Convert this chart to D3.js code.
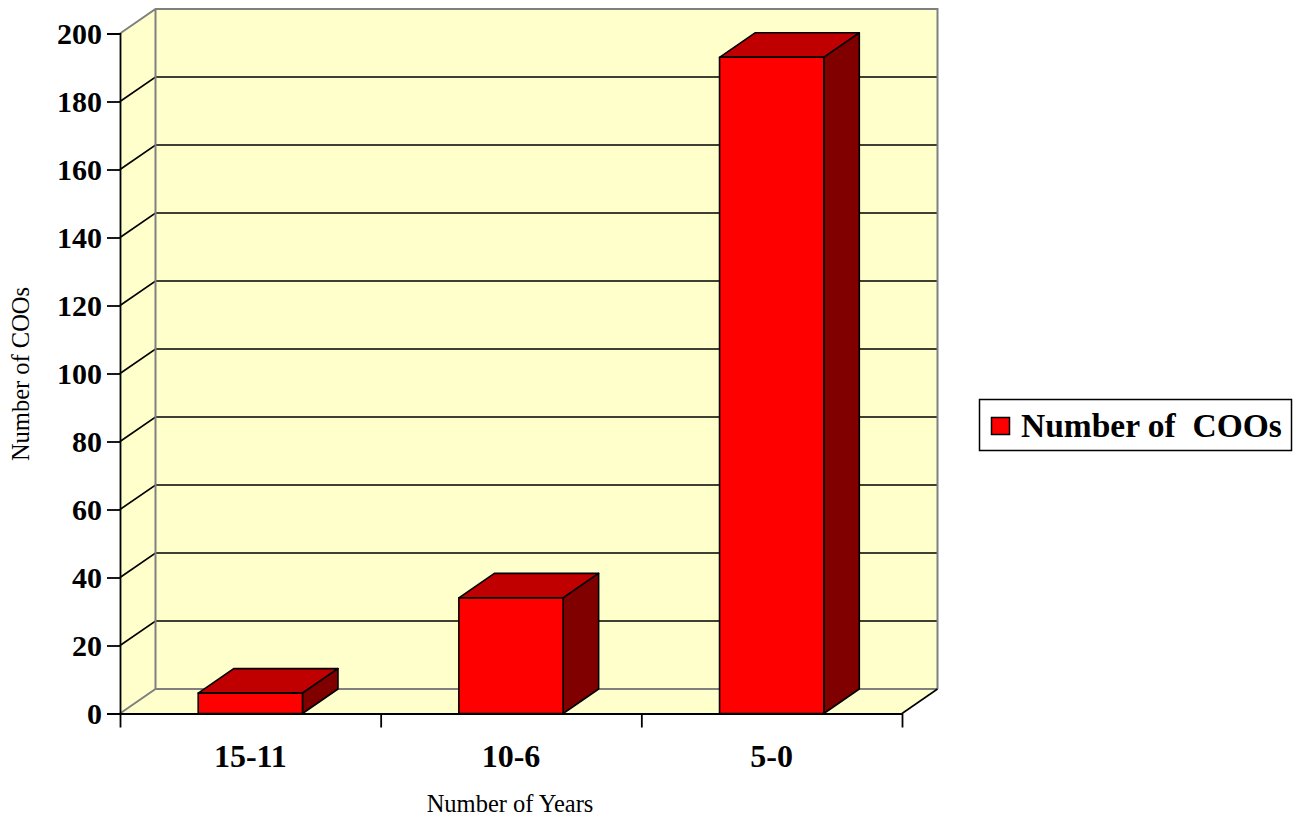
<!DOCTYPE html>
<html>
<head>
<meta charset="utf-8">
<script src="https://cdn.jsdelivr.net/npm/d3@7"></script>
<style>
  html, body { margin: 0; padding: 0; background: #ffffff; }
  svg { display: block; }
  text { font-family: "Liberation Serif", "Times New Roman", serif; }
</style>
</head>
<body>
<svg id="chart" width="1301" height="819"></svg>
<script>
// Data
const categories = ["15-11", "10-6", "5-0"];
const coos = [6, 34, 193];
const yTicks = [0, 20, 40, 60, 80, 100, 120, 140, 160, 180, 200];
const seriesName = "Number of  COOs";
const xTitle = "Number of Years";
const yTitle = "Number of COOs";

const svg = d3.select("#chart");

// Front plane geometry and 3D depth offset
const plotLeft = 120, plotRight = 902, plotBottom = 713.5, plotTop = 33.5;
const dx = 35.5, dy = -24.5;

const y = d3.scaleLinear().domain([0, 200]).range([plotBottom, plotTop]);
const x = d3.scaleBand().domain(categories).range([plotLeft, plotRight])
  .paddingInner(0.6).paddingOuter(0.3);
const xEdge = d3.scaleLinear().domain([0, categories.length]).range([plotLeft, plotRight]);

const wallFill = "#ffffcc";
const edgeGray = "#808080";

// Back wall
svg.append("rect")
  .attr("x", plotLeft + dx).attr("y", plotTop + dy)
  .attr("width", plotRight - plotLeft).attr("height", plotBottom - plotTop)
  .attr("fill", wallFill);

// Side wall
svg.append("path")
  .attr("d", `M${plotLeft},${plotBottom}L${plotLeft},${plotTop}L${plotLeft + dx},${plotTop + dy}L${plotLeft + dx},${plotBottom + dy}Z`)
  .attr("fill", wallFill);

// Floor
svg.append("path")
  .attr("d", `M${plotLeft},${plotBottom}L${plotLeft + dx},${plotBottom + dy}L${plotRight + dx},${plotBottom + dy}L${plotRight},${plotBottom}Z`)
  .attr("fill", wallFill);

// Gridlines on back and side walls
const inner = yTicks.filter(t => t > 0 && t < 200);
svg.append("g").selectAll("path").data(inner).join("path")
  .attr("d", t => `M${plotLeft},${y(t)}L${plotLeft + dx},${y(t) + dy}L${plotRight + dx},${y(t) + dy}`)
  .attr("fill", "none").attr("stroke", "#000").attr("stroke-width", 1.6);

// Wall outlines
svg.append("path")
  .attr("d", `M${plotLeft},${y(0)}L${plotLeft + dx},${y(0) + dy}L${plotRight + dx},${y(0) + dy}`
    + `M${plotLeft},${y(200)}L${plotLeft + dx},${y(200) + dy}L${plotRight + dx},${y(200) + dy}L${plotRight + dx},${y(0) + dy}`
    + `M${plotLeft + dx},${y(200) + dy}L${plotLeft + dx},${y(0) + dy}`)
  .attr("fill", "none").attr("stroke", edgeGray).attr("stroke-width", 2);

// Floor right edge
svg.append("path")
  .attr("d", `M${plotRight},${plotBottom}L${plotRight + dx},${plotBottom + dy}`)
  .attr("stroke", "#000").attr("stroke-width", 1.6);

// Bars
const bars = svg.append("g").selectAll("g").data(categories.map((c, i) => ({ c, v: coos[i] })))
  .join("g")
  .attr("stroke", "#000").attr("stroke-width", 1.6).attr("stroke-linejoin", "round");

bars.append("path") // top face
  .attr("fill", "#c00000")
  .attr("d", d => {
    const x0 = x(d.c), x1 = x0 + x.bandwidth(), yt = y(d.v);
    return `M${x0},${yt}L${x0 + dx},${yt + dy}L${x1 + dx},${yt + dy}L${x1},${yt}Z`;
  });
bars.append("path") // side face
  .attr("fill", "#800000")
  .attr("d", d => {
    const x1 = x(d.c) + x.bandwidth(), yt = y(d.v), yb = y(0);
    return `M${x1},${yt}L${x1 + dx},${yt + dy}L${x1 + dx},${yb + dy}L${x1},${yb}Z`;
  });
bars.append("rect") // front face
  .attr("fill", "#ff0000")
  .attr("x", d => x(d.c)).attr("y", d => y(d.v))
  .attr("width", x.bandwidth()).attr("height", d => y(0) - y(d.v));

// Y axis
const yAxis = svg.append("g").attr("transform", `translate(${plotLeft},0)`)
  .call(d3.axisLeft(y).tickValues(yTicks).tickSize(13).tickPadding(5).tickFormat(d3.format("d")));
yAxis.selectAll("path, line").attr("stroke", "#000").attr("stroke-width", 1.8);
yAxis.selectAll("text")
  .attr("font-family", "Liberation Serif, serif").attr("font-weight", "bold")
  .attr("font-size", 30).attr("fill", "#000").attr("dy", "0.34em");

// X axis: boundary ticks
const xAxis = svg.append("g").attr("transform", `translate(0,${plotBottom})`)
  .call(d3.axisBottom(xEdge).tickValues(d3.range(categories.length + 1)).tickSize(14).tickFormat(""));
xAxis.selectAll("path, line").attr("stroke", "#000").attr("stroke-width", 1.8);
xAxis.select(".domain").attr("d", `M${plotLeft},0.5H${plotRight}`);

// X axis: category labels
const xLabels = svg.append("g").attr("transform", `translate(0,${plotBottom})`)
  .call(d3.axisBottom(x).tickSize(0).tickPadding(0));
xLabels.select(".domain").remove();
xLabels.selectAll("text")
  .attr("font-family", "Liberation Serif, serif").attr("font-weight", "bold")
  .attr("font-size", 32).attr("fill", "#000").attr("y", 53).attr("dy", null);

// Axis titles
svg.append("text")
  .attr("x", 510).attr("y", 812).attr("text-anchor", "middle")
  .attr("font-size", 24.5).attr("fill", "#000").text(xTitle);
svg.append("text")
  .attr("transform", "translate(29,374) rotate(-90)").attr("text-anchor", "middle")
  .attr("font-size", 24.5).attr("fill", "#000").text(yTitle);

// Legend
const legend = svg.append("g");
legend.append("rect")
  .attr("x", 979.5).attr("y", 399.5).attr("width", 312).attr("height", 51)
  .attr("fill", "#fff").attr("stroke", "#000").attr("stroke-width", 1.5);
legend.append("rect")
  .attr("x", 991.5).attr("y", 417.5).attr("width", 18).attr("height", 17)
  .attr("fill", "#ff0000").attr("stroke", "#000").attr("stroke-width", 1.5);
legend.append("text")
  .attr("x", 1021).attr("y", 437).attr("font-weight", "bold").attr("font-size", 33.5)
  .style("white-space", "pre").attr("fill", "#000").text(seriesName);
</script>
</body>
</html>
